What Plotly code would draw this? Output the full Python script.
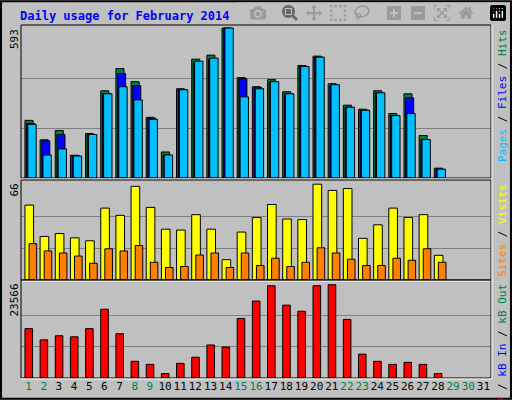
import plotly.graph_objects as go

days = list(range(1, 32))
hits  = [228,151,188,90,176,345,433,381,240,103,353,470,486,593,397,361,389,341,445,482,373,288,272,345,255,333,168,39]
files = [216,147,172,87,172,333,413,365,236,91,349,458,470,593,393,357,381,333,441,478,365,280,268,337,247,317,152,35]
pages = [212,91,115,87,172,333,361,309,232,91,349,462,474,593,321,353,381,333,441,478,369,280,268,337,247,255,152,35]
visits = [51.6,30,32,29,27,49.5,44.5,64.5,50,35,34.4,45,35,14,33,43,52,42,41.6,66,61.7,63,28.7,38,49.5,43,45,17]
sites = [25,20,18.6,16.5,11.5,21.5,20,23.7,12.2,8.6,9.3,17.2,18.6,8.6,18.6,10,15,9.3,12.2,22.2,18.6,14.3,10,10,15,13.6,21.5,12.2]
kbytes = [12470,9632,10664,10406,12470,17372,11180,4214,3440,1118,3698,5246,8342,7826,15050,19436,23306,18404,16856,23306,23566,14792,6020,4214,3440,3956,3440,1118]
weekend = {1,2,8,9,15,16,22,23,29,30}
max_hits, max_visits, max_kb = 593, 66, 23566

W, H = 512, 400
x0, x1 = 21/W, 491/W
def py(p): return 1 - p/H
doms = {'top': (py(178), py(25)), 'mid': (py(280), py(180)), 'bot': (py(378), py(280))}

fig = go.Figure()
ln = dict(color='black', width=1)
d = days[:len(hits)]
fig.add_bar(x=d, y=hits, width=0.53, offset=-0.24, marker=dict(color='#008040', line=ln), xaxis='x', yaxis='y')
fig.add_bar(x=d, y=files, width=0.53, offset=-0.13, marker=dict(color='#0000FF', line=ln), xaxis='x', yaxis='y')
fig.add_bar(x=d, y=pages, width=0.55, offset=-0.05, marker=dict(color='#00C0FF', line=ln), xaxis='x', yaxis='y')
fig.add_bar(x=d, y=visits, width=0.57, offset=-0.24, marker=dict(color='#FFFF00', line=ln), xaxis='x2', yaxis='y2')
fig.add_bar(x=d, y=sites, width=0.5, offset=0.03, marker=dict(color='#FF8000', line=ln), xaxis='x2', yaxis='y2')
fig.add_bar(x=d, y=kbytes, width=0.5, offset=-0.24, marker=dict(color='#FF0000', line=ln), xaxis='x3', yaxis='y3')

ticktext = [f"<span style='color:{'#008040' if k in weekend else 'black'}'>{k}</span>" for k in days]
common_x = dict(range=[0.5, 31.5], domain=[x0, x1], showgrid=False, zeroline=False, fixedrange=True, automargin=False)
fig.update_layout(
    width=W, height=H, margin=dict(l=0, r=0, t=0, b=0, autoexpand=False), barmode='overlay',
    paper_bgcolor='#C0C0C0', plot_bgcolor='#C0C0C0', showlegend=False,
    font=dict(family='DejaVu Sans Mono', size=11, color='black'),
    xaxis=dict(**common_x, anchor='y', showticklabels=False),
    xaxis2=dict(**common_x, anchor='y2', showticklabels=False),
    xaxis3=dict(**common_x, anchor='y3', tickmode='array', tickvals=days, ticktext=ticktext, ticks='', tickangle=0, tickfont=dict(size=11, family='DejaVu Sans Mono')),
    yaxis=dict(domain=doms['top'], range=[0, max_hits*150/147], tickvals=[max_hits/3, 2*max_hits/3], showticklabels=False, gridcolor='#808080', zeroline=False),
    yaxis2=dict(domain=doms['mid'], range=[0, max_visits*96/92], tickvals=[max_visits/3, 2*max_visits/3], showticklabels=False, gridcolor='#808080', zeroline=False),
    yaxis3=dict(domain=doms['bot'], range=[0, max_kb*96/91.4], tickvals=[max_kb/3, 2*max_kb/3], showticklabels=False, gridcolor='#808080', zeroline=False),
)
shapes = [dict(type='rect', xref='paper', yref='paper', x0=0.002, x1=0.998, y0=0.003, y1=0.997, line=dict(color='black', width=2))]
for k, (a, b) in doms.items():
    shapes.append(dict(type='rect', xref='paper', yref='paper', x0=x0, x1=x1, y0=a, y1=b, line=dict(color='black', width=1)))
    shapes.append(dict(type='line', xref='paper', yref='paper', x0=x1+1/W, x1=x1+1/W, y0=a, y1=b, line=dict(color='white', width=1)))
    shapes.append(dict(type='line', xref='paper', yref='paper', x0=x0, x1=x1+1/W, y0=a-1/H, y1=a-1/H, line=dict(color='white', width=1)))
fig.update_layout(shapes=shapes)

ann = [dict(text='<b>Daily usage for February 2014</b>', x=18/W, y=py(16), xref='paper', yref='paper', xanchor='left', yanchor='middle', showarrow=False, font=dict(color='#0000FF', size=12))]
for val, top in [(max_hits, 25), (max_visits, 180), (max_kb, 280)]:
    ann.append(dict(text=str(val), x=14/W, y=py(top+2), xref='paper', yref='paper', xanchor='center', yanchor='top', textangle=-90, showarrow=False, font=dict(size=11)))
rlabels = [
    ("<span style='color:#00C0FF'>Pages</span> / <span style='color:#0000FF'>Files</span> / <span style='color:#008040'>Hits</span>", 25),
    ("<span style='color:#FF8000'>Sites</span> / <span style='color:#FFFF00'>Visits</span>", 180),
    ("<span style='color:#FF0000'>kB F</span> / <span style='color:#0000FF'>kB In</span> / <span style='color:#008040'>kB Out</span>", 280),
]
for t, top in rlabels:
    ann.append(dict(text=t, x=494/W, y=py(top+2), xref='paper', yref='paper', xanchor='left', yanchor='top', textangle=-90, showarrow=False, font=dict(size=11)))
fig.update_layout(annotations=ann)

fig.write_html("out.html", post_script="document.body.style.margin='0';document.body.style.overflow='hidden';")
